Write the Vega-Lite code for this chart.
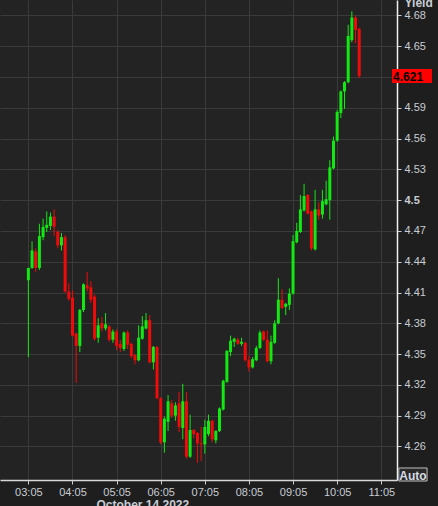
{
  "$schema": "https://vega.github.io/schema/vega-lite/v6.json",
  "width": 397,
  "height": 480,
  "autosize": {"type": "none"},
  "padding": {"left": 0, "top": 0, "right": 41, "bottom": 26},
  "background": "#1e1e1e",
  "config": {
    "view": {"stroke": null, "fill": "#232323"},
    "font": "Liberation Sans"
  },
  "datasets": {
    "candles": [
      {"t":"2022-10-14T03:05","open":4.422,"high":4.434,"low":4.347,"close":4.434},
      {"t":"2022-10-14T03:10","open":4.434,"high":4.460,"low":4.433,"close":4.451},
      {"t":"2022-10-14T03:15","open":4.450,"high":4.453,"low":4.430,"close":4.434},
      {"t":"2022-10-14T03:20","open":4.434,"high":4.477,"low":4.432,"close":4.465},
      {"t":"2022-10-14T03:25","open":4.464,"high":4.482,"low":4.461,"close":4.474},
      {"t":"2022-10-14T03:30","open":4.473,"high":4.489,"low":4.469,"close":4.476},
      {"t":"2022-10-14T03:35","open":4.475,"high":4.488,"low":4.471,"close":4.484},
      {"t":"2022-10-14T03:40","open":4.484,"high":4.491,"low":4.465,"close":4.474},
      {"t":"2022-10-14T03:45","open":4.469,"high":4.471,"low":4.453,"close":4.456},
      {"t":"2022-10-14T03:50","open":4.456,"high":4.468,"low":4.451,"close":4.464},
      {"t":"2022-10-14T03:55","open":4.464,"high":4.466,"low":4.410,"close":4.411},
      {"t":"2022-10-14T04:00","open":4.411,"high":4.419,"low":4.402,"close":4.404},
      {"t":"2022-10-14T04:05","open":4.405,"high":4.412,"low":4.367,"close":4.368},
      {"t":"2022-10-14T04:10","open":4.370,"high":4.371,"low":4.322,"close":4.358},
      {"t":"2022-10-14T04:15","open":4.358,"high":4.394,"low":4.352,"close":4.393},
      {"t":"2022-10-14T04:20","open":4.393,"high":4.419,"low":4.391,"close":4.418},
      {"t":"2022-10-14T04:25","open":4.417,"high":4.430,"low":4.411,"close":4.414},
      {"t":"2022-10-14T04:30","open":4.415,"high":4.421,"low":4.400,"close":4.403},
      {"t":"2022-10-14T04:35","open":4.406,"high":4.408,"low":4.363,"close":4.365},
      {"t":"2022-10-14T04:40","open":4.366,"high":4.385,"low":4.361,"close":4.378},
      {"t":"2022-10-14T04:45","open":4.380,"high":4.386,"low":4.372,"close":4.375},
      {"t":"2022-10-14T04:50","open":4.375,"high":4.390,"low":4.373,"close":4.379},
      {"t":"2022-10-14T04:55","open":4.377,"high":4.378,"low":4.362,"close":4.364},
      {"t":"2022-10-14T05:00","open":4.364,"high":4.374,"low":4.361,"close":4.372},
      {"t":"2022-10-14T05:05","open":4.372,"high":4.374,"low":4.354,"close":4.358},
      {"t":"2022-10-14T05:10","open":4.360,"high":4.364,"low":4.352,"close":4.356},
      {"t":"2022-10-14T05:15","open":4.355,"high":4.372,"low":4.353,"close":4.371},
      {"t":"2022-10-14T05:20","open":4.371,"high":4.373,"low":4.355,"close":4.359},
      {"t":"2022-10-14T05:25","open":4.360,"high":4.361,"low":4.346,"close":4.348},
      {"t":"2022-10-14T05:30","open":4.349,"high":4.350,"low":4.340,"close":4.344},
      {"t":"2022-10-14T05:35","open":4.344,"high":4.378,"low":4.343,"close":4.366},
      {"t":"2022-10-14T05:40","open":4.365,"high":4.387,"low":4.364,"close":4.377},
      {"t":"2022-10-14T05:45","open":4.375,"high":4.390,"low":4.374,"close":4.383},
      {"t":"2022-10-14T05:50","open":4.383,"high":4.388,"low":4.341,"close":4.342},
      {"t":"2022-10-14T05:55","open":4.342,"high":4.358,"low":4.335,"close":4.357},
      {"t":"2022-10-14T06:00","open":4.357,"high":4.358,"low":4.306,"close":4.307},
      {"t":"2022-10-14T06:05","open":4.307,"high":4.308,"low":4.262,"close":4.264},
      {"t":"2022-10-14T06:10","open":4.264,"high":4.289,"low":4.254,"close":4.287},
      {"t":"2022-10-14T06:15","open":4.284,"high":4.310,"low":4.275,"close":4.304},
      {"t":"2022-10-14T06:20","open":4.302,"high":4.305,"low":4.288,"close":4.290},
      {"t":"2022-10-14T06:25","open":4.290,"high":4.303,"low":4.285,"close":4.300},
      {"t":"2022-10-14T06:30","open":4.302,"high":4.313,"low":4.274,"close":4.279},
      {"t":"2022-10-14T06:35","open":4.278,"high":4.321,"low":4.267,"close":4.304},
      {"t":"2022-10-14T06:40","open":4.304,"high":4.313,"low":4.248,"close":4.250},
      {"t":"2022-10-14T06:45","open":4.250,"high":4.291,"low":4.249,"close":4.276},
      {"t":"2022-10-14T06:50","open":4.276,"high":4.277,"low":4.268,"close":4.272},
      {"t":"2022-10-14T06:55","open":4.273,"high":4.274,"low":4.244,"close":4.263},
      {"t":"2022-10-14T07:00","open":4.263,"high":4.279,"low":4.246,"close":4.262},
      {"t":"2022-10-14T07:05","open":4.262,"high":4.286,"low":4.253,"close":4.279},
      {"t":"2022-10-14T07:10","open":4.272,"high":4.291,"low":4.270,"close":4.285},
      {"t":"2022-10-14T07:15","open":4.285,"high":4.286,"low":4.264,"close":4.267},
      {"t":"2022-10-14T07:20","open":4.266,"high":4.276,"low":4.263,"close":4.275},
      {"t":"2022-10-14T07:25","open":4.275,"high":4.298,"low":4.274,"close":4.297},
      {"t":"2022-10-14T07:30","open":4.296,"high":4.325,"low":4.295,"close":4.324},
      {"t":"2022-10-14T07:35","open":4.323,"high":4.354,"low":4.322,"close":4.353},
      {"t":"2022-10-14T07:40","open":4.352,"high":4.368,"low":4.348,"close":4.363},
      {"t":"2022-10-14T07:45","open":4.362,"high":4.366,"low":4.357,"close":4.365},
      {"t":"2022-10-14T07:50","open":4.364,"high":4.366,"low":4.359,"close":4.360},
      {"t":"2022-10-14T07:55","open":4.360,"high":4.366,"low":4.358,"close":4.362},
      {"t":"2022-10-14T08:00","open":4.361,"high":4.362,"low":4.343,"close":4.344},
      {"t":"2022-10-14T08:05","open":4.344,"high":4.348,"low":4.333,"close":4.337},
      {"t":"2022-10-14T08:10","open":4.337,"high":4.347,"low":4.336,"close":4.345},
      {"t":"2022-10-14T08:15","open":4.344,"high":4.358,"low":4.343,"close":4.356},
      {"t":"2022-10-14T08:20","open":4.356,"high":4.373,"low":4.355,"close":4.371},
      {"t":"2022-10-14T08:25","open":4.372,"high":4.373,"low":4.363,"close":4.364},
      {"t":"2022-10-14T08:30","open":4.364,"high":4.373,"low":4.342,"close":4.343},
      {"t":"2022-10-14T08:35","open":4.343,"high":4.368,"low":4.340,"close":4.362},
      {"t":"2022-10-14T08:40","open":4.361,"high":4.383,"low":4.360,"close":4.380},
      {"t":"2022-10-14T08:45","open":4.380,"high":4.424,"low":4.379,"close":4.403},
      {"t":"2022-10-14T08:50","open":4.403,"high":4.413,"low":4.394,"close":4.395},
      {"t":"2022-10-14T08:55","open":4.396,"high":4.400,"low":4.388,"close":4.399},
      {"t":"2022-10-14T09:00","open":4.398,"high":4.414,"low":4.393,"close":4.409},
      {"t":"2022-10-14T09:05","open":4.409,"high":4.466,"low":4.408,"close":4.460},
      {"t":"2022-10-14T09:10","open":4.459,"high":4.478,"low":4.458,"close":4.470},
      {"t":"2022-10-14T09:15","open":4.469,"high":4.505,"low":4.468,"close":4.491},
      {"t":"2022-10-14T09:20","open":4.490,"high":4.516,"low":4.489,"close":4.504},
      {"t":"2022-10-14T09:25","open":4.505,"high":4.506,"low":4.486,"close":4.487},
      {"t":"2022-10-14T09:30","open":4.489,"high":4.490,"low":4.451,"close":4.453},
      {"t":"2022-10-14T09:35","open":4.452,"high":4.510,"low":4.451,"close":4.491},
      {"t":"2022-10-14T09:40","open":4.491,"high":4.498,"low":4.481,"close":4.485},
      {"t":"2022-10-14T09:45","open":4.486,"high":4.510,"low":4.482,"close":4.499},
      {"t":"2022-10-14T09:50","open":4.496,"high":4.519,"low":4.495,"close":4.501},
      {"t":"2022-10-14T09:55","open":4.500,"high":4.539,"low":4.481,"close":4.532},
      {"t":"2022-10-14T10:00","open":4.531,"high":4.562,"low":4.530,"close":4.558},
      {"t":"2022-10-14T10:05","open":4.558,"high":4.588,"low":4.557,"close":4.586},
      {"t":"2022-10-14T10:10","open":4.585,"high":4.607,"low":4.580,"close":4.606},
      {"t":"2022-10-14T10:15","open":4.606,"high":4.616,"low":4.589,"close":4.615},
      {"t":"2022-10-14T10:20","open":4.615,"high":4.671,"low":4.614,"close":4.660},
      {"t":"2022-10-14T10:25","open":4.656,"high":4.684,"low":4.654,"close":4.678},
      {"t":"2022-10-14T10:30","open":4.678,"high":4.680,"low":4.653,"close":4.666},
      {"t":"2022-10-14T10:35","open":4.667,"high":4.668,"low":4.619,"close":4.621}
    ],
    "last": [{"value": 4.621}]
  },
  "layer": [
    {
      "data": {"name": "candles"},
      "mark": {"type": "rule", "strokeWidth": 1},
      "encoding": {
        "x": {
          "field": "t", "type": "temporal",
          "scale": {"domain": [
            {"year": 2022, "month": 10, "date": 14, "hours": 2, "minutes": 33, "seconds": 12},
            {"year": 2022, "month": 10, "date": 14, "hours": 11, "minutes": 19, "seconds": 36}
          ]},
          "axis": {
            "orient": "bottom",
            "tickCount": 20,
            "values": [
              {"year": 2022, "month": 10, "date": 14, "hours": 3, "minutes": 5},
              {"year": 2022, "month": 10, "date": 14, "hours": 4, "minutes": 5},
              {"year": 2022, "month": 10, "date": 14, "hours": 5, "minutes": 5},
              {"year": 2022, "month": 10, "date": 14, "hours": 6, "minutes": 5},
              {"year": 2022, "month": 10, "date": 14, "hours": 7, "minutes": 5},
              {"year": 2022, "month": 10, "date": 14, "hours": 8, "minutes": 5},
              {"year": 2022, "month": 10, "date": 14, "hours": 9, "minutes": 5},
              {"year": 2022, "month": 10, "date": 14, "hours": 10, "minutes": 5},
              {"year": 2022, "month": 10, "date": 14, "hours": 11, "minutes": 5}
            ],
            "format": "%H:%M",
            "grid": true, "gridColor": "#3a3a3a", "gridWidth": 1,
            "domainColor": "#d8d8d8", "domainWidth": 1.5,
            "tickColor": "#c8ccd4", "tickSize": 4,
            "labelColor": "#c8ccd4", "labelFont": "Liberation Sans", "labelFontSize": 11,
            "labelPadding": 2, "labelFlush": false, "labelOverlap": false,
            "title": "October 14 2022",
            "titleColor": "#c8ccd4", "titleFont": "Liberation Sans", "titleFontSize": 12, "titleFontWeight": "bold",
            "titleAnchor": "start", "titleAlign": "left", "titleBaseline": "alphabetic",
            "titleX": 96, "titleY": 28
          }
        },
        "y": {
          "field": "low", "type": "quantitative",
          "scale": {"domain": [4.2273, 4.6951], "nice": false, "zero": false},
          "axis": {
            "orient": "right",
            "tickCount": 30,
            "values": [4.26, 4.29, 4.32, 4.35, 4.38, 4.41, 4.44, 4.47, 4.5, 4.53, 4.56, 4.59, 4.62, 4.65, 4.68],
            "labelExpr": "datum.value == 4.62 ? '' : format(datum.value, '.3~r')",
            "grid": true, "gridColor": "#3a3a3a", "gridWidth": 1,
            "domainColor": "#f0f0f0", "domainWidth": 1.5,
            "tickColor": "#c8ccd4", "tickSize": 4,
            "labelColor": "#c8ccd4", "labelFont": "Liberation Sans", "labelFontSize": 11,
            "labelFontWeight": {"condition": {"test": "datum.value == 4.5", "value": "bold"}, "value": "normal"},
            "labelPadding": 3, "labelFlush": false, "labelOverlap": false,
            "title": "Yield",
            "titleColor": "#c8ccd4", "titleFont": "Liberation Sans", "titleFontSize": 12, "titleFontWeight": "bold",
            "titleAngle": 0, "titleAlign": "left", "titleBaseline": "alphabetic",
            "titleX": 7, "titleY": 6
          }
        },
        "y2": {"field": "high"},
        "color": {"condition": {"test": "datum.open <= datum.close", "value": "#12e812"}, "value": "#f00a0a"}
      }
    },
    {
      "data": {"name": "candles"},
      "mark": {"type": "bar", "width": 3},
      "encoding": {
        "x": {"field": "t", "type": "temporal"},
        "y": {"field": "open", "type": "quantitative"},
        "y2": {"field": "close"},
        "color": {"condition": {"test": "datum.open <= datum.close", "value": "#12e812"}, "value": "#f00a0a"}
      }
    },
    {
      "data": {"name": "last"},
      "mark": {"type": "tick", "orient": "horizontal", "thickness": 14, "size": 40, "color": "#ff0000", "opacity": 1},
      "encoding": {
        "x": {"datum": {"year": 2022, "month": 10, "date": 14, "hours": 11, "minutes": 46, "seconds": 48}, "type": "temporal"},
        "y": {"field": "value", "type": "quantitative"}
      }
    },
    {
      "data": {"name": "last"},
      "mark": {"type": "text", "align": "left", "baseline": "middle", "font": "Liberation Sans", "fontSize": 12, "fontWeight": "bold", "color": "#000000", "dy": 1},
      "encoding": {
        "x": {"datum": {"year": 2022, "month": 10, "date": 14, "hours": 11, "minutes": 21, "seconds": 0}, "type": "temporal"},
        "y": {"field": "value", "type": "quantitative"},
        "text": {"field": "value", "type": "quantitative", "format": ".3f"}
      }
    },
    {
      "data": {"values": [{"label": "Auto"}]},
      "mark": {"type": "rect", "fill": "#2a2a2a", "stroke": "#c0c0c0", "strokeWidth": 1},
      "encoding": {
        "x": {"datum": {"year": 2022, "month": 10, "date": 14, "hours": 11, "minutes": 28, "seconds": 54}, "type": "temporal"},
        "x2": {"datum": {"year": 2022, "month": 10, "date": 14, "hours": 12, "minutes": 7, "seconds": 18}},
        "y": {"datum": 4.2390, "type": "quantitative"},
        "y2": {"datum": 4.2263}
      }
    },
    {
      "data": {"values": [{"label": "Auto"}]},
      "mark": {"type": "text", "align": "center", "baseline": "middle", "font": "Liberation Sans", "fontSize": 12, "fontWeight": "bold", "color": "#d8dce4", "dy": 1},
      "encoding": {
        "x": {"datum": {"year": 2022, "month": 10, "date": 14, "hours": 11, "minutes": 48, "seconds": 6}, "type": "temporal"},
        "y": {"datum": 4.2326, "type": "quantitative"},
        "text": {"field": "label"}
      }
    }
  ]
}
